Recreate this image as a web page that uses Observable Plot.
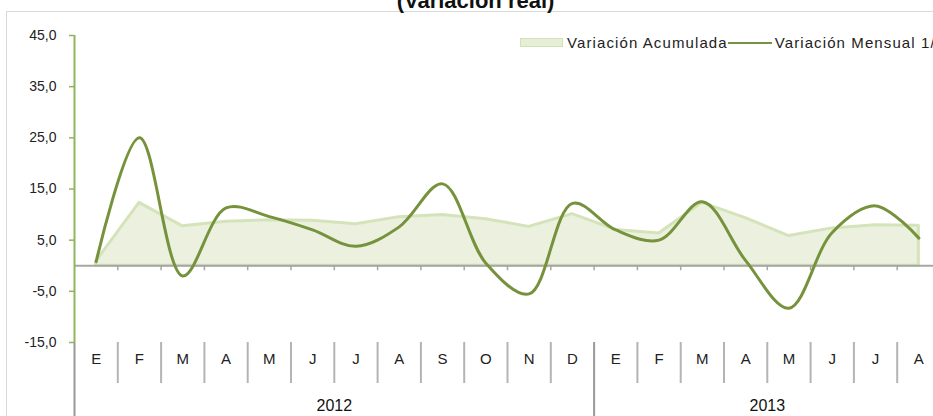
<!DOCTYPE html>
<html>
<head>
<meta charset="utf-8">
<script src="https://cdn.jsdelivr.net/npm/d3@7"></script>
<script src="https://cdn.jsdelivr.net/npm/@observablehq/plot@0.6"></script>
<style>
  html, body { margin: 0; padding: 0; background: #fff; overflow: hidden; }
  #wrap { position: relative; width: 933px; height: 416px; overflow: hidden; font-family: "Liberation Sans", Arial, sans-serif; }
  #legend { position: absolute; left: 520px; top: 34px; display: flex; align-items: center; font-size: 15px; color: #222; letter-spacing: 1.1px; white-space: nowrap; }
  .patch { width: 41px; height: 7px; background: #e6eed6; border: 1px solid #d3e1b8; margin-right: 4px; }
  .lineSw { width: 44px; height: 0; border-top: 2px solid #76923c; margin: 0 3px 0 0; }
</style>
</head>
<body>
<div id="wrap">
  <div id="chart"></div>
  <div id="legend">
    <div class="patch"></div><span id="lgA"></span><div class="lineSw"></div><span id="lgM"></span>
  </div>
</div>
<script>
const months = ["E","F","M","A","M","J","J","A","S","O","N","D","E","F","M","A","M","J","J","A"];
const monthYears = [2012,2012,2012,2012,2012,2012,2012,2012,2012,2012,2012,2012,2013,2013,2013,2013,2013,2013,2013,2013];
const acumulada = [0.8, 12.3, 7.7, 8.6, 8.9, 8.8, 8.1, 9.5, 9.9, 9.1, 7.6, 10.1, 7.0, 6.3, 12.3, 9.3, 5.8, 7.3, 7.9, 7.8];
const mensual = [0.8, 25.0, -2.0, 11.3, 9.6, 7.0, 3.8, 7.6, 16.0, 0.5, -5.5, 12.2, 7.0, 5.0, 12.5, 1.0, -8.3, 6.5, 11.7, 5.4];
const yTicks = [-15, -5, 5, 15, 25, 35, 45];
const yTickLabels = ["-15,0", "-5,0", "5,0", "15,0", "25,0", "35,0", "45,0"];
const title = "(Variación real)";
const seriesNames = ["Variación Acumulada", "Variación Mensual 1/"];

document.getElementById("lgA").textContent = seriesNames[0];
document.getElementById("lgM").textContent = seriesNames[1];

const idx = months.map((d, i) => i);
const rows = idx.map(i => ({i, month: months[i], year: monthYears[i], acum: acumulada[i], mens: mensual[i]}));
const boundaries = idx.slice(0, -1).map(i => i + 0.5);
const yearChange = boundaries.filter(b => monthYears[b - 0.5] !== monthYears[b + 0.5]);
const innerBounds = boundaries.filter(b => !yearChange.includes(b));
const years = Array.from(new Set(monthYears));
const yearRows = years.map(y => {
  const ii = idx.filter(i => monthYears[i] === y);
  return {year: String(y), x: (ii[0] + ii[ii.length - 1]) / 2};
});

const green = "#76923c";
const axisGreen = "#93b35e";
const sepGrey = "#b4b4b4";
const font = "Liberation Sans, Arial, sans-serif";

const chart = Plot.plot({
  width: 933,
  height: 416,
  marginLeft: 74,
  marginRight: -7,
  marginTop: 35,
  marginBottom: 74,
  style: {fontFamily: font, background: "#fff", overflow: "hidden"},
  x: {type: "linear", domain: [-0.5, months.length - 0.5], axis: null},
  y: {domain: [-15, 45], axis: null},
  marks: [
    Plot.frame({stroke: "#d9d9d9", insetLeft: -68, insetTop: -24, insetRight: -30, insetBottom: -100}),
    Plot.text([title], {frameAnchor: "top", dx: -32, dy: -28, lineAnchor: "bottom", fontWeight: "bold", fontSize: 22, fill: "#111"}),
    Plot.areaY(rows, {x: "i", y: "acum", fill: "#ebf1de", stroke: "#d5e3ba", strokeWidth: 3, strokeLinejoin: "round"}),
    Plot.ruleY([0], {stroke: "#a6a6a6", strokeWidth: 2}),
    Plot.ruleX(boundaries, {y1: 0, y2: 0, insetBottom: -5, stroke: "#a6a6a6", strokeWidth: 1.5}),
    Plot.ruleX([-0.5], {y1: -15, y2: 45, stroke: axisGreen, strokeWidth: 2}),
    Plot.axisY({ticks: yTicks, tickSize: 5, tickPadding: 13, tickFormat: d => yTickLabels[yTicks.indexOf(d)], stroke: axisGreen, strokeWidth: 1.5, fill: "#222", fontSize: 14, label: null}),
    Plot.ruleX(innerBounds, {insetTop: 307, insetBottom: -41, stroke: sepGrey, strokeWidth: 2}),
    Plot.ruleX([-0.5, ...yearChange], {insetTop: 307, insetBottom: -90, stroke: "#999", strokeWidth: 2}),
    Plot.text(rows, {x: "i", text: "month", frameAnchor: "bottom", dy: 21, fontSize: 15, fill: "#222"}),
    Plot.text(yearRows, {x: "x", text: "year", frameAnchor: "bottom", dy: 68, fontSize: 16, fill: "#111"}),
    Plot.lineY(rows, {x: "i", y: "mens", curve: "catmull-rom", stroke: green, strokeWidth: 3})
  ]
});
document.getElementById("chart").appendChild(chart);
</script>
</body>
</html>
